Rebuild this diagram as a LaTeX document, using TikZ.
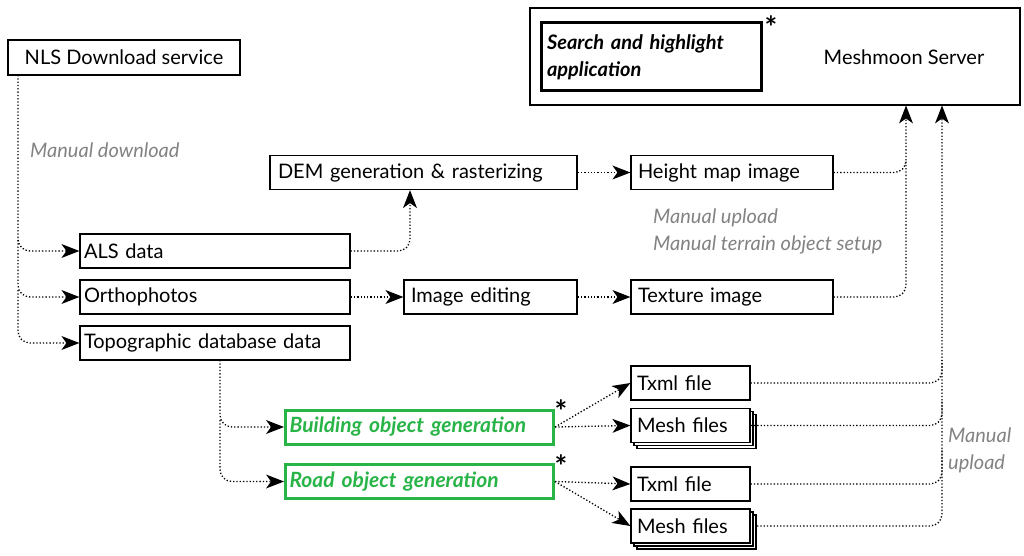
\documentclass[tikz,border=0pt]{standalone}
\usepackage{fontspec}
\setmainfont{Lato}
\usetikzlibrary{arrows.meta,shadows}
\definecolor{grn}{RGB}{40,180,70}
\definecolor{gr}{RGB}{130,130,130}
\begin{document}
\begin{tikzpicture}[x=1pt,y=-1pt,
  box/.style={draw,line width=1.2pt,fill=white,inner sep=0pt,font=\fontsize{20}{22}\selectfont,minimum height=34pt,align=left},
  gbox/.style={box,draw=grn,line width=3pt,text=grn,font=\fontsize{21}{22}\selectfont\bfseries\itshape},
  stack/.style={box,double copy shadow={shadow xshift=3pt,shadow yshift=-3pt,draw,line width=1.2pt,fill=white}},
  lab/.style={text=gr,font=\fontsize{20}{27}\selectfont\itshape,anchor=west,inner sep=0pt},
  ast/.style={font=\fontsize{30}{30}\selectfont\bfseries,inner sep=0pt},
  con/.style={dotted,line width=1.3pt,rounded corners=12pt,-{Stealth[length=18pt,width=14pt,line width=0pt,inset=5pt]}},
  lin/.style={dotted,line width=1.3pt,rounded corners=12pt}]
\useasboundingbox (0,0) rectangle (1024,556);
\node[box,minimum width=232pt,minimum height=35pt,align=center] (nls) at (124,57.5) {NLS Download service};
\node[box,minimum width=490pt,minimum height=97pt] (srv) at (775,56.5) {};
\node[font=\fontsize{20}{22}\selectfont] (srvt) at (904,57) {Meshmoon Server};
\node[draw,line width=3pt,minimum width=220pt,minimum height=68pt,inner sep=0pt,align=left,text width=208pt,font=\fontsize{20}{27}\selectfont\bfseries\itshape] (sh) at (651,57) {Search and highlight\\application};
\node[ast] (st1) at (771,27) {*};
\node[box,minimum width=307pt,text width=291pt] (dem) at (423.5,172.5) {DEM generation \& rasterizing};
\node[box,minimum width=202pt,text width=188pt] (hm) at (732,172.5) {Height map image};
\node[box,minimum width=270pt,text width=262pt] (als) at (215,251) {ALS data};
\node[box,minimum width=270pt,text width=262pt] (ort) at (215,297) {Orthophotos};
\node[box,minimum width=173pt,text width=159pt] (ied) at (490.5,297) {Image editing};
\node[box,minimum width=202pt,text width=188pt] (tex) at (732,297) {Texture image};
\node[box,minimum width=270pt,text width=262pt] (top) at (215,343) {Topographic database data};
\node[gbox,minimum width=268pt,text width=260pt] (bld) at (419.5,427) {Building object generation};
\node[gbox,minimum width=268pt,text width=260pt] (road) at (419.5,481.5) {Road object generation};
\node[ast] (st2) at (561,411) {*};
\node[ast] (st3) at (561,466) {*};
\node[box,minimum width=119pt,text width=107pt] (tx1) at (690.5,383) {Txml file};
\node[stack,minimum width=119pt,text width=107pt] (me1) at (690.5,425.5) {Mesh files};
\node[box,minimum width=119pt,text width=107pt] (tx2) at (690.5,484) {Txml file};
\node[stack,minimum width=119pt,text width=107pt] (me2) at (690.5,526) {Mesh files};
\node[lab] (l1) at (30,150) {Manual download};
\node[lab] (l2) at (653,218) {Manual upload};
\node[lab] (l3) at (653,245) {Manual terrain object setup};
\node[lab,align=left] (l4) at (948,450) {Manual\\upload};
\coordinate (a1) at (906,105.5);
\coordinate (a2) at (942,105.5);
\draw[con] (18,75) |- (als.west);
\draw[con] (18,240) |- (ort.west);
\draw[con] (18,290) |- (top.west);
\draw[con] (als.east) -| (dem.south -| 410,0);
\draw[con] (dem.east) -- (hm.west);
\draw[con] (ort.east) -- (ied.west);
\draw[con] (ied.east) -- (tex.west);
\draw[con] (hm.east) -| (a1);
\draw[lin] (tex.east) -| (906,160);
\draw[con] (220,360) |- (bld.west);
\draw[con] (220,420) |- (road.west);
\draw[con] (bld.east) -- (tx1.west);
\draw[con] (bld.east) -- (me1.west);
\draw[con] (road.east) -- (tx2.west);
\draw[con] (road.east) -- (me2.west);
\draw[con] (tx1.east) -| (a2);
\draw[lin] (me1.east) -| (942,360);
\draw[lin] (tx2.east) -| (942,400);
\draw[lin] (757,526) -| (942,450);
\end{tikzpicture}
\end{document}
